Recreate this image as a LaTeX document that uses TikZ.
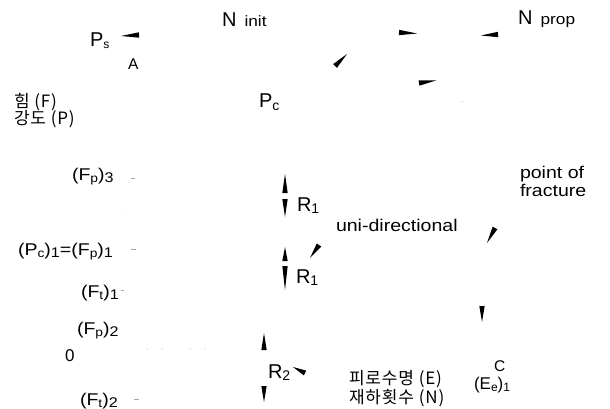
\documentclass[tikz,border=0pt]{standalone}
\usepackage{fontspec}
\setmainfont{Liberation Sans}
\newfontfamily\wide[FakeStretch=1.15]{Liberation Sans}
\newfontfamily\kr[LetterSpace=5]{Noto Sans CJK KR}
\usetikzlibrary{calc}
\newcommand\lsub[2][12]{\raisebox{-2pt}{\fontsize{#1}{#1}\selectfont #2}}
\newcommand\wedgeTB[2]{\fill[black] (#1) -- ($(#2)!2.7pt!90:(#1)$) -- ($(#2)!2.7pt!-90:(#1)$) -- cycle;}
\begin{document}
\begin{tikzpicture}[x=1pt,y=-1pt,inner sep=0pt,outer sep=0pt,
  lbl/.style={anchor=base west,font=\wide\fontsize{17}{19}\selectfont},
  sml/.style={anchor=base west,font=\fontsize{15.5}{17}\selectfont},
  big/.style={anchor=base west,font=\fontsize{20}{22}\selectfont},
  krl/.style={anchor=base west,font=\kr\fontsize{17}{19}\selectfont},
  faint/.style={draw=black!35,line width=0.6pt},
  speck/.style={fill=black!45}]
\useasboundingbox (0,0) rectangle (610,409);
% titles
\node[big] (ninit) at (222,27) {N\,{\wide\fontsize{15}{15}\selectfont\ init}};
\node[big] (nprop) at (518,25) {N\,{\wide\fontsize{15}{15}\selectfont\ prop}};
\node[big] (ps) at (90,47) {P\lsub[12]{s}};
\node[sml] (a) at (128,70) {A};
\node[big] (pc) at (259,108) {P\lsub[14]{c}};
\node[krl] (force) at (14,107.5) {힘 (F)};
\node[krl] (strength) at (14,124.5) {강도 (P)};
% y-axis labels
\node[lbl] (fp3) at (72,180) {(F\lsub{p})\lsub[14]{3}};
\node[lbl] (pc1) at (18,255) {(P\lsub{c})\lsub[14]{1}=(F\lsub{p})\lsub[14]{1}};
\node[lbl] (ft1) at (81,297) {(F\lsub{t})\lsub[14]{1}};
\node[lbl] (fp2) at (77,334) {(F\lsub{p})\lsub[14]{2}};
\node[anchor=base west,font=\fontsize{17}{19}\selectfont] (zero) at (65,361) {0};
\node[lbl] (ft2) at (80,405) {(F\lsub{t})\lsub[14]{2}};
% R labels
\node[big] (r1a) at (297,211) {R\lsub[14]{1}};
\node[big] (r1b) at (296,283) {R\lsub[14]{1}};
\node[big] (r2) at (268,378) {R\lsub[14]{2}};
% right labels
\node[lbl] (pof) at (520,178) {point of};
\node[lbl] (frac) at (520,196) {fracture};
\node[lbl] (uni) at (336,231) {uni-directional};
\node[sml] (c) at (494,371) {C};
\node[anchor=base west,font=\fontsize{17}{19}\selectfont] (ee) at (474,389) {(E\lsub[12]{e})\lsub[12]{1}};
\node[krl] (life) at (349,384) {피로수명 (E)};
\node[krl] (cycles) at (349,403) {재하횟수 (N)};
% wedge arrowheads (tip, base)
\coordinate (t1) at (121,36);  \coordinate (b1) at (139,35);
\coordinate (t2) at (417,33.5);\coordinate (b2) at (399,32.5);
\coordinate (t3) at (481,35.5);\coordinate (b3) at (498,34.5);
\coordinate (t4) at (347,54);  \coordinate (b4) at (335,66);
\coordinate (t5) at (436,80.5);\coordinate (b5) at (419,83);
\coordinate (t6) at (285,174); \coordinate (b6) at (285,193);
\coordinate (t7) at (285,217); \coordinate (b7) at (285,199);
\coordinate (t8) at (285,247); \coordinate (b8) at (285,261);
\coordinate (t9) at (285,290); \coordinate (b9) at (285,266);
\coordinate (t10) at (310,258);\coordinate (b10) at (319,245);
\coordinate (t11) at (264,333);\coordinate (b11) at (264,350);
\coordinate (t12) at (264,402);\coordinate (b12) at (264,386);
\coordinate (t13) at (293,367);\coordinate (b13) at (305,373);
\coordinate (t14) at (487,243);\coordinate (b14) at (495,228);
\coordinate (t15) at (482,322);\coordinate (b15) at (482,306);
\foreach \i in {1,...,15}{\wedgeTB{t\i}{b\i}}
% faint remnants of ticks and of a dotted line
\coordinate (k1a) at (131,178); \coordinate (k1b) at (135,178);
\coordinate (k2a) at (131,249); \coordinate (k2b) at (136,249);
\coordinate (k3a) at (121,290); \coordinate (k3b) at (124,290);
\coordinate (k4a) at (134,399); \coordinate (k4b) at (139,399);
\draw[faint] (k1a) -- (k1b);
\draw[faint] (k2a) -- (k2b);
\draw[faint] (k3a) -- (k3b);
\draw[faint] (k4a) -- (k4b);
\foreach \x in {147,162,190,205}{\fill[speck] (\x,349) circle (0.5pt);}
\fill[speck] (123,214) circle (0.4pt);
\fill[speck] (462,102) circle (0.5pt);
\end{tikzpicture}
\end{document}
